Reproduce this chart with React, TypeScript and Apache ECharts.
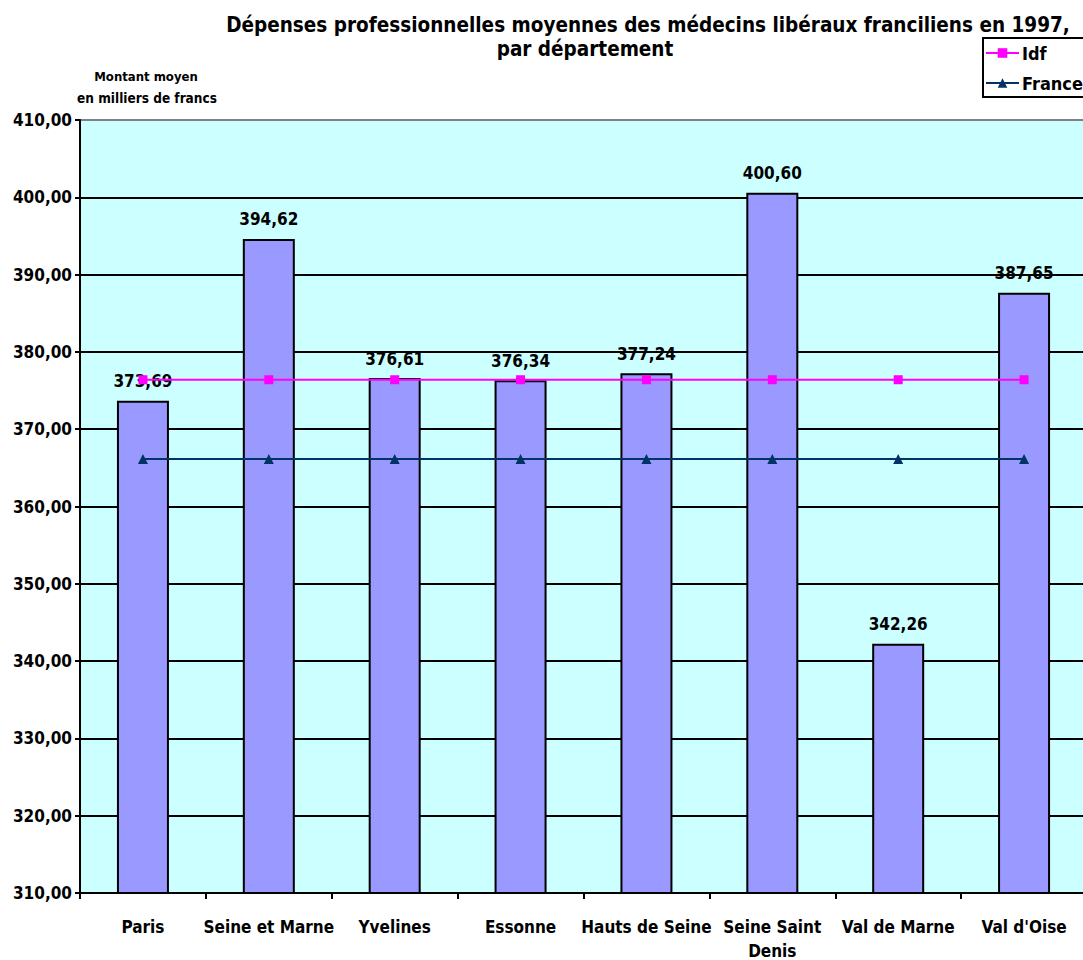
import React, { useEffect, useRef } from "react";
import * as echarts from "echarts";

const categories = ["Paris", "Seine et Marne", "Yvelines", "Essonne", "Hauts de Seine", "Seine Saint\nDenis", "Val de Marne", "Val d'Oise"];
const barValues = [373.69, 394.62, 376.61, 376.34, 377.24, 400.6, 342.26, 387.65];
const idfValues = [376.4, 376.4, 376.4, 376.4, 376.4, 376.4, 376.4, 376.4];
const franceValues = [366.15, 366.15, 366.15, 366.15, 366.15, 366.15, 366.15, 366.15];
const titleLines = ["Dépenses professionnelles moyennes des médecins libéraux franciliens en 1997,", "par département"];
const yAxisNameLines = ["Montant moyen", "en milliers de francs"];

const FONT = "'DejaVu Sans Condensed', 'DejaVu Sans', sans-serif";
const fmt = (v: number) => v.toFixed(2).replace(".", ",");

export default function App() {
  const ref = useRef<HTMLDivElement>(null);
  useEffect(() => {
    if (!ref.current) return;
    const chart = echarts.init(ref.current, null, { renderer: "svg" });
    const splitColors = Array.from({ length: 11 }, (_, i) => (i === 10 ? "#808080" : "#000000"));
    chart.setOption({
      animation: false,
      backgroundColor: "#ffffff",
      textStyle: { fontFamily: FONT },
      grid: {
        left: 80,
        top: 120,
        width: 1007,
        height: 773,
        show: true,
        backgroundColor: "#ccffff",
        borderWidth: 0,
        outerBoundsMode: "none",
        containLabel: false,
      },
      legend: {
        orient: "vertical",
        left: 983,
        top: 38,
        width: 98,
        padding: [6, 6, 5, 2],
        itemGap: 12,
        itemWidth: 33,
        itemHeight: 12,
        borderColor: "#000",
        borderWidth: 2,
        backgroundColor: "#fff",
        data: ["Idf", "France"],
        textStyle: { fontFamily: FONT, fontWeight: "bold", fontSize: 18, color: "#000", padding: [0, 0, 0, -2] },
      },
      graphic: [
        { type: "text", x: 648, y: 14, style: { text: titleLines[0], fill: "#000", font: `bold 20.5px ${FONT}`, textAlign: "center" } },
        { type: "text", x: 585, y: 38, style: { text: titleLines[1], fill: "#000", font: `bold 20.5px ${FONT}`, textAlign: "center" } },
        { type: "text", x: 146, y: 70, style: { text: yAxisNameLines[0], fill: "#000", font: `bold 13px ${FONT}`, textAlign: "center" } },
        { type: "text", x: 147, y: 91, style: { text: yAxisNameLines[1], fill: "#000", font: `bold 13.5px ${FONT}`, textAlign: "center" } },
      ],
      xAxis: {
        type: "category",
        data: categories,
        axisLine: { lineStyle: { color: "#000", width: 2 } },
        axisTick: { show: true, length: 6, lineStyle: { color: "#000", width: 2 }, alignWithLabel: false },
        axisLabel: { color: "#000", fontFamily: FONT, fontWeight: "bold", fontSize: 17, margin: 22, interval: 0, lineHeight: 24 },
      },
      yAxis: {
        type: "value",
        min: 310,
        max: 410,
        interval: 10,
        axisLine: { show: true, lineStyle: { color: "#000", width: 2 } },
        axisTick: { show: true, length: 5, lineStyle: { color: "#000", width: 2 } },
        axisLabel: { color: "#000", fontFamily: FONT, fontWeight: "bold", fontSize: 17, margin: 8, formatter: (v: number) => fmt(v) },
        splitLine: { show: true, lineStyle: { color: splitColors, width: 2 } },
      },
      series: [
        {
          name: "Bars",
          type: "bar",
          data: barValues,
          barWidth: 52,
          itemStyle: { color: "#9999ff", borderColor: "#000", borderWidth: 2 },
          label: {
            show: true,
            position: "top",
            distance: 11,
            color: "#000",
            fontFamily: FONT,
            fontWeight: "bold",
            fontSize: 17,
            formatter: (p: any) => fmt(p.value),
          },
          z: 2,
        },
        {
          name: "Idf",
          type: "line",
          data: idfValues,
          symbol: "rect",
          symbolSize: 9,
          lineStyle: { color: "#ff00ff", width: 2 },
          itemStyle: { color: "#ff00ff" },
          z: 3,
        },
        {
          name: "France",
          type: "line",
          data: franceValues,
          symbol: "triangle",
          symbolSize: 10,
          lineStyle: { color: "#003366", width: 2 },
          itemStyle: { color: "#003366" },
          z: 3,
        },
      ],
    });
    return () => chart.dispose();
  }, []);
  return <div ref={ref} style={{ position: "absolute", left: 0, top: 0, width: 1083, height: 960 }} />;
}
